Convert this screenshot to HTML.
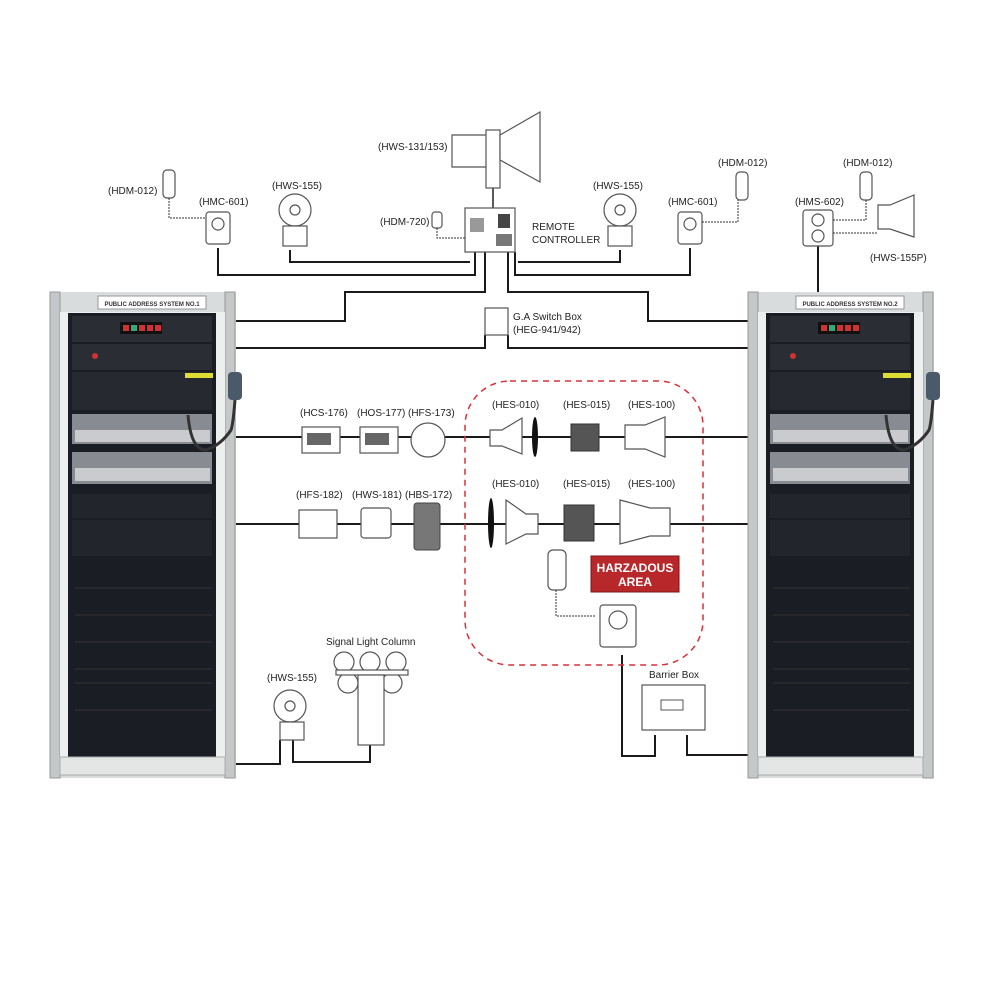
<!DOCTYPE html>
<html><head><meta charset="utf-8"><style>
html,body{margin:0;padding:0;background:#fff;}
svg{display:block;font-family:"Liberation Sans",sans-serif;}
.l{font-size:10px;fill:#222;}
.w{stroke:#1a1a1a;stroke-width:2;fill:none;}
.d{fill:#fff;stroke:#555;stroke-width:1.2;}
</style></head><body>
<svg width="1000" height="1000" viewBox="0 0 1000 1000">
<rect width="1000" height="1000" fill="#fff"/>

<!-- wires -->
<path class="w" d="M236 321 H345 V292 H485 V252"/>
<path class="w" d="M236 348 H485 V335"/>
<path class="w" d="M750 321 H648 V292 H508 V252"/>
<path class="w" d="M750 348 H508 V335"/>
<path class="w" d="M218 248 V275 H475 V252"/>
<path class="w" d="M290 250 V262 H470"/>
<path class="w" d="M690 248 V275 H515 V252"/>
<path class="w" d="M620 250 V262 H518"/>
<path class="w" d="M818 245 V292"/>
<path class="w" d="M236 437 H760"/>
<path class="w" d="M236 524 H760"/>
<path class="w" d="M236 764 H280 V740"/>
<path class="w" d="M293 740 V762 H370 V745"/>
<path class="w" d="M622 655 V756 H655 V735"/>
<path class="w" d="M687 735 V755 H750"/>
<path d="M493 167 V210" stroke="#222" stroke-width="1.5"/>

<!-- racks -->
<g>
<rect x="50" y="292" width="186" height="486" fill="#d8dcdc"/>
<rect x="50" y="292" width="10" height="486" fill="#c4c8c8" stroke="#999"/>
<rect x="225" y="292" width="10" height="486" fill="#c4c8c8" stroke="#999"/>
<rect x="60" y="312" width="165" height="446" fill="#eef0f0"/>
<rect x="68" y="313" width="148" height="444" fill="#1a1d24"/>
<rect x="98" y="296" width="108" height="13" fill="#fff" stroke="#999"/>
<text x="152" y="306" text-anchor="middle" font-size="6" font-weight="bold" fill="#333">PUBLIC ADDRESS SYSTEM NO.1</text>
<rect x="72" y="316" width="140" height="26" fill="#2a2d33"/>
<rect x="120" y="322" width="42" height="12" fill="#111"/>
<rect x="123" y="325" width="6" height="6" fill="#c33"/><rect x="131" y="325" width="6" height="6" fill="#3a7"/><rect x="139" y="325" width="6" height="6" fill="#c33"/><rect x="147" y="325" width="6" height="6" fill="#c33"/><rect x="155" y="325" width="6" height="6" fill="#c33"/>
<rect x="72" y="344" width="140" height="26" fill="#2a2d33"/>
<circle cx="95" cy="356" r="3" fill="#c33"/>
<rect x="72" y="372" width="140" height="38" fill="#262930"/>
<rect x="185" y="373" width="28" height="5" fill="#dd3"/>
<rect x="72" y="414" width="140" height="30" fill="#888c92"/>
<rect x="75" y="430" width="135" height="12" fill="#c9cbce"/>
<rect x="72" y="452" width="140" height="32" fill="#888c92"/>
<rect x="75" y="468" width="135" height="13" fill="#c9cbce"/>
<rect x="72" y="494" width="140" height="24" fill="#22252b"/>
<rect x="72" y="520" width="140" height="36" fill="#22252b"/>
<g stroke="#333" stroke-width="1"><line x1="75" y1="588" x2="212" y2="588"/><line x1="75" y1="615" x2="212" y2="615"/><line x1="75" y1="642" x2="212" y2="642"/><line x1="75" y1="669" x2="212" y2="669"/><line x1="75" y1="683" x2="212" y2="683"/><line x1="75" y1="710" x2="212" y2="710"/></g>
<rect x="60" y="757" width="165" height="18" fill="#e4e6e6" stroke="#aaa"/>
<rect x="228" y="372" width="14" height="28" rx="4" fill="#4b5a6a"/>
<path d="M235 400 q-2 25 -4 30 q-10 15 -25 20 q-15 0 -18 -35" stroke="#333" stroke-width="3" fill="none"/>
</g>
<g>
<rect x="748" y="292" width="186" height="486" fill="#d8dcdc"/>
<rect x="748" y="292" width="10" height="486" fill="#c4c8c8" stroke="#999"/>
<rect x="923" y="292" width="10" height="486" fill="#c4c8c8" stroke="#999"/>
<rect x="758" y="312" width="165" height="446" fill="#eef0f0"/>
<rect x="766" y="313" width="148" height="444" fill="#1a1d24"/>
<rect x="796" y="296" width="108" height="13" fill="#fff" stroke="#999"/>
<text x="850" y="306" text-anchor="middle" font-size="6" font-weight="bold" fill="#333">PUBLIC ADDRESS SYSTEM NO.2</text>
<rect x="770" y="316" width="140" height="26" fill="#2a2d33"/>
<rect x="818" y="322" width="42" height="12" fill="#111"/>
<rect x="821" y="325" width="6" height="6" fill="#c33"/><rect x="829" y="325" width="6" height="6" fill="#3a7"/><rect x="837" y="325" width="6" height="6" fill="#c33"/><rect x="845" y="325" width="6" height="6" fill="#c33"/><rect x="853" y="325" width="6" height="6" fill="#c33"/>
<rect x="770" y="344" width="140" height="26" fill="#2a2d33"/>
<circle cx="793" cy="356" r="3" fill="#c33"/>
<rect x="770" y="372" width="140" height="38" fill="#262930"/>
<rect x="883" y="373" width="28" height="5" fill="#dd3"/>
<rect x="770" y="414" width="140" height="30" fill="#888c92"/>
<rect x="773" y="430" width="135" height="12" fill="#c9cbce"/>
<rect x="770" y="452" width="140" height="32" fill="#888c92"/>
<rect x="773" y="468" width="135" height="13" fill="#c9cbce"/>
<rect x="770" y="494" width="140" height="24" fill="#22252b"/>
<rect x="770" y="520" width="140" height="36" fill="#22252b"/>
<g stroke="#333" stroke-width="1"><line x1="773" y1="588" x2="910" y2="588"/><line x1="773" y1="615" x2="910" y2="615"/><line x1="773" y1="642" x2="910" y2="642"/><line x1="773" y1="669" x2="910" y2="669"/><line x1="773" y1="683" x2="910" y2="683"/><line x1="773" y1="710" x2="910" y2="710"/></g>
<rect x="758" y="757" width="165" height="18" fill="#e4e6e6" stroke="#aaa"/>
<rect x="926" y="372" width="14" height="28" rx="4" fill="#4b5a6a"/>
<path d="M933 400 q-2 25 -4 30 q-10 15 -25 20 q-15 0 -18 -35" stroke="#333" stroke-width="3" fill="none"/>
</g>

<!-- hazard zone -->
<rect x="465" y="381" width="238" height="284" rx="45" fill="none" stroke="#d9303a" stroke-width="1.5" stroke-dasharray="6,5"/>

<!-- top devices -->
<path class="d" d="M452 135 h36 v32 h-36z"/>
<rect class="d" x="486" y="130" width="14" height="58"/>
<path class="d" d="M500 135 L540 112 V182 L500 160z"/>
<text class="l" x="378" y="150">(HWS-131/153)</text>
<rect class="d" x="465" y="208" width="50" height="44"/>
<rect x="470" y="218" width="14" height="14" fill="#999"/><rect x="498" y="214" width="12" height="14" fill="#444"/><rect x="496" y="234" width="16" height="12" fill="#777"/>
<text class="l" x="532" y="230">REMOTE</text><text class="l" x="532" y="243">CONTROLLER</text>
<text class="l" x="380" y="225">(HDM-720)</text>
<rect class="d" x="432" y="212" width="10" height="16" rx="3"/>
<path d="M437 228 v10 h28" stroke="#333" stroke-dasharray="2,1" fill="none"/>
<text class="l" x="108" y="194">(HDM-012)</text>
<rect class="d" x="163" y="170" width="12" height="28" rx="4"/>
<path d="M169 198 v20 h36" stroke="#333" stroke-dasharray="2,1" fill="none"/>
<text class="l" x="199" y="205">(HMC-601)</text>
<rect class="d" x="206" y="212" width="24" height="32" rx="3"/><circle cx="218" cy="224" r="6" class="d"/>
<text class="l" x="272" y="189">(HWS-155)</text>
<circle class="d" cx="295" cy="210" r="16"/><circle cx="295" cy="210" r="5" class="d"/>
<rect class="d" x="283" y="226" width="24" height="20"/>
<text class="l" x="593" y="189">(HWS-155)</text>
<circle class="d" cx="620" cy="210" r="16"/><circle cx="620" cy="210" r="5" class="d"/>
<rect class="d" x="608" y="226" width="24" height="20"/>
<text class="l" x="668" y="205">(HMC-601)</text>
<rect class="d" x="678" y="212" width="24" height="32" rx="3"/><circle cx="690" cy="224" r="6" class="d"/>
<path d="M702 222 h36 v-22" stroke="#333" stroke-dasharray="2,1" fill="none"/>
<text class="l" x="718" y="166">(HDM-012)</text>
<rect class="d" x="736" y="172" width="12" height="28" rx="4"/>
<text class="l" x="843" y="166">(HDM-012)</text>
<rect class="d" x="860" y="172" width="12" height="28" rx="4"/>
<text class="l" x="795" y="205">(HMS-602)</text>
<rect class="d" x="803" y="210" width="30" height="36" rx="3"/><circle cx="818" cy="220" r="6" class="d"/><circle cx="818" cy="236" r="6" class="d"/>
<path d="M833 220 h33 v-20 M833 233 h45" stroke="#333" stroke-dasharray="2,1" fill="none"/>
<path class="d" d="M878 205 h12 l24 -10 v42 l-24 -8 h-12z"/>
<text class="l" x="870" y="261">(HWS-155P)</text>
<rect class="d" x="485" y="308" width="23" height="27"/>
<text class="l" x="513" y="320">G.A Switch Box</text>
<text class="l" x="513" y="333">(HEG-941/942)</text>

<!-- row 1 -->
<text class="l" x="300" y="416">(HCS-176)</text>
<rect class="d" x="302" y="427" width="38" height="26"/><rect x="307" y="433" width="24" height="12" fill="#666"/>
<text class="l" x="357" y="416">(HOS-177)</text>
<rect class="d" x="360" y="427" width="38" height="26"/><rect x="365" y="433" width="24" height="12" fill="#666"/>
<text class="l" x="408" y="416">(HFS-173)</text>
<circle class="d" cx="428" cy="440" r="17"/>
<text class="l" x="492" y="408">(HES-010)</text>
<path class="d" d="M490 430 h12 l20 -12 v36 l-20 -8 h-12z"/><ellipse cx="535" cy="437" rx="3" ry="20" fill="#111"/>
<text class="l" x="563" y="408">(HES-015)</text>
<rect x="571" y="424" width="28" height="27" fill="#555" stroke="#333"/>
<text class="l" x="628" y="408">(HES-100)</text>
<path class="d" d="M625 425 h20 l20 -8 v40 l-20 -8 h-20z"/>

<!-- row 2 -->
<text class="l" x="296" y="498">(HFS-182)</text>
<rect class="d" x="299" y="510" width="38" height="28"/>
<text class="l" x="352" y="498">(HWS-181)</text>
<rect class="d" x="361" y="508" width="30" height="30" rx="3"/>
<text class="l" x="405" y="498">(HBS-172)</text>
<rect x="414" y="503" width="26" height="47" rx="3" fill="#777" stroke="#444"/>
<text class="l" x="492" y="487">(HES-010)</text>
<path class="d" d="M538 514 h-12 l-20 -14 v44 l20 -10 h12z"/><ellipse cx="491" cy="523" rx="3" ry="25" fill="#111"/>
<text class="l" x="563" y="487">(HES-015)</text>
<rect x="564" y="505" width="30" height="36" fill="#555" stroke="#333"/>
<text class="l" x="628" y="487">(HES-100)</text>
<path class="d" d="M620 500 l30 8 h20 v28 h-20 l-30 8z"/>

<!-- hazard items -->
<rect x="591" y="556" width="88" height="36" fill="#b8282b" stroke="#7a1414"/>
<text x="635" y="572" text-anchor="middle" font-size="12" font-weight="bold" fill="#fff">HARZADOUS</text>
<text x="635" y="586" text-anchor="middle" font-size="12" font-weight="bold" fill="#fff">AREA</text>
<rect class="d" x="548" y="550" width="18" height="40" rx="5"/>
<path d="M556 590 v26 h40" stroke="#333" stroke-dasharray="2,1" fill="none"/>
<rect class="d" x="600" y="605" width="36" height="42" rx="3"/><circle cx="618" cy="620" r="9" class="d"/>
<text class="l" x="649" y="678">Barrier Box</text>
<rect class="d" x="642" y="685" width="63" height="45"/><rect x="661" y="700" width="22" height="10" fill="#fff" stroke="#555"/>

<!-- bottom -->
<text class="l" x="267" y="681">(HWS-155)</text>
<circle class="d" cx="290" cy="706" r="16"/><circle cx="290" cy="706" r="5" class="d"/>
<rect class="d" x="280" y="722" width="24" height="18"/>
<text class="l" x="326" y="645">Signal Light Column</text>
<circle class="d" cx="344" cy="662" r="10"/><circle class="d" cx="370" cy="662" r="10"/><circle class="d" cx="396" cy="662" r="10"/>
<circle class="d" cx="348" cy="683" r="10"/><circle class="d" cx="392" cy="683" r="10"/>
<rect class="d" x="336" y="670" width="72" height="5"/>
<rect class="d" x="358" y="675" width="26" height="70"/>
</svg>
</body></html>
